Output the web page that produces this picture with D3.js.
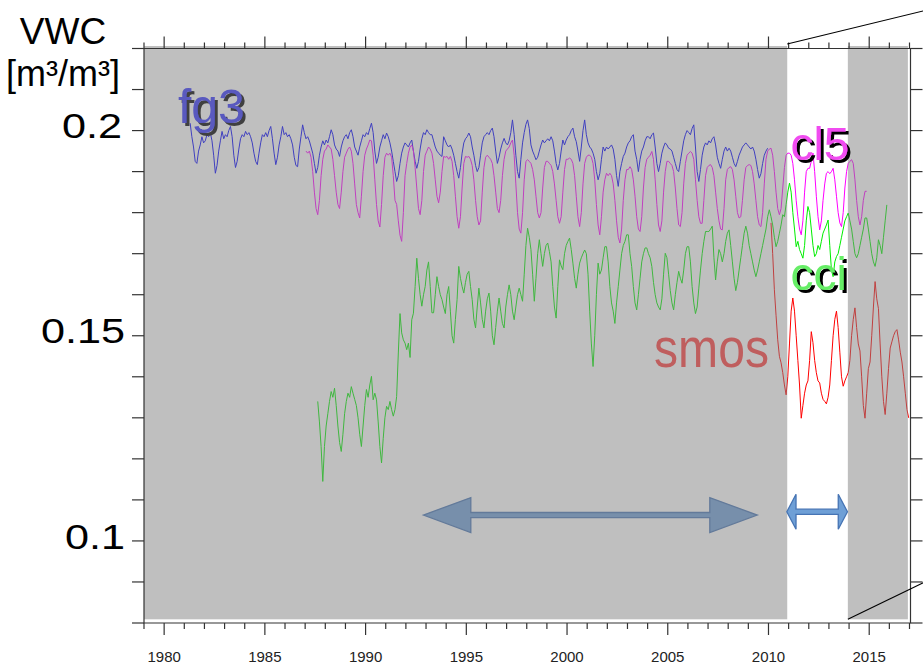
<!DOCTYPE html>
<html>
<head>
<meta charset="utf-8">
<script src="https://cdn.jsdelivr.net/npm/d3@7"></script>
<style>
  html, body { margin: 0; padding: 0; background: #fff; }
  svg { display: block; font-family: "Liberation Sans", Arial, sans-serif; }
</style>
</head>
<body>
<svg id="chart" width="923" height="668"></svg>
<script>
// Monthly volumetric water content series [m3/m3]; each series starts at the given month.
const fg3Start = [1981, 3];   // April 1981
const fg3 = [
  .2018,.1985,.1960,.1925,.1920,.1950,.1965,.1985,.1970,
  .1975,.1990,.1985,.1995,.1975,.1940,.1896,.1915,.1950,.1975,.1998,.1980,
  .1990,.1985,.2000,.2010,.1985,.1940,.1910,.1925,.1955,.1980,.1990,.1985,
  .1998,.1990,.1995,.1985,.1970,.1945,.1925,.1917,.1945,.1970,.1990,.1985,
  .1995,.1985,.2000,.2010,.1980,.1945,.1917,.1935,.1965,.1985,.2010,.1990,
  .1995,.1985,.1990,.1980,.1965,.1935,.1915,.1912,.1955,.1985,.2014,.1995,
  .1980,.1985,.1975,.1960,.1945,.1920,.1896,.1910,.1940,.1960,.1975,.1965,
  .1977,.1970,.1985,.2002,.1990,.1965,.1955,.1950,.1937,.1960,.1975,.1985,
  .1990,.1980,.1995,.2002,.1985,.1960,.1950,.1940,.1960,.1975,.1990,.1985,
  .1995,.1990,.2005,.2018,.1995,.1950,.1920,.1935,.1960,.1975,.1990,.1980,
  .1994,.1985,.1970,.1950,.1925,.1900,.1876,.1890,.1920,.1945,.1960,.1970,
  .1965,.1960,.1970,.1977,.1950,.1925,.1908,.1925,.1955,.1980,.1995,.1990,
  .2002,.1995,.1990,.1990,.1975,.1960,.1950,.1945,.1940,.1937,.1985,.1975,
  .1965,.1960,.1965,.1955,.1940,.1920,.1900,.1884,.1910,.1945,.1970,.1980,
  .1985,.1994,.1985,.1960,.1940,.1915,.1900,.1910,.1940,.1970,.1985,.1990,
  .1995,.1990,.2000,.2006,.1985,.1950,.1920,.1935,.1955,.1970,.1981,.1970,
  .1965,.1975,.1995,.2026,.1990,.1940,.1900,.1884,.1930,.1970,.1995,.2015,
  .2026,.2005,.1965,.1950,.1940,.1929,.1935,.1950,.1965,.1977,.1970,.1975,
  .1980,.1975,.1985,.1975,.1950,.1920,.1904,.1920,.1950,.1977,.1965,.1977,
  .1985,.1990,.2000,.2006,.1985,.1973,.1950,.1925,.1960,.2000,.2026,.1990,
  .1970,.1960,.1955,.1945,.1930,.1900,.1880,.1895,.1930,.1960,.1950,.1960,
  .1955,.1960,.1965,.1955,.1930,.1890,.1864,.1900,.1920,.1937,.1945,.1960,
  .1970,.1975,.1985,.1990,.1950,.1930,.1900,.1930,.1950,.1960,.1975,.1985,
  .1985,.1980,.1990,.1994,.1960,.1920,.1900,.1920,.1945,.1960,.1970,.1965,
  .1957,.1955,.1950,.1935,.1920,.1905,.1900,.1925,.1950,.1975,.1990,.2000,
  .1995,.1990,.2005,.2014,.1960,.1900,.1876,.1905,.1940,.1960,.1970,.1965,
  .1975,.1970,.1980,.1985,.1965,.1935,.1920,.1908,.1930,.1950,.1960,.1950,
  .1957,.1950,.1935,.1920,.1912,.1925,.1940,.1950,.1960,.1965,.1970,.1965,
  .1960,.1955,.1960,.1950,.1930,.1905,.1884,.1895,.1920,.1940,.1950,.1957
];

const cl5Start = [1987, 0];   // January 1987
const cl5 = [
  .1950,.1945,.1950,.1935,.1900,.1850,.1810,.1795,.1830,.1890,.1930,.1950,
  .1955,.1965,.1960,.1955,.1930,.1890,.1850,.1820,.1810,.1850,.1900,.1935,
  .1945,.1955,.1960,.1950,.1920,.1870,.1820,.1800,.1787,.1840,.1900,.1940,
  .1955,.1965,.1977,.1975,.1940,.1880,.1820,.1780,.1765,.1820,.1890,.1935,
  .1945,.1940,.1945,.1935,.1890,.1830,.1820,.1780,.1745,.1730,.1800,.1890,
  .1920,.1945,.1960,.1965,.1950,.1910,.1860,.1810,.1795,.1830,.1900,.1940,
  .1950,.1960,.1955,.1945,.1920,.1880,.1840,.1824,.1850,.1900,.1937,.1935,
  .1937,.1930,.1937,.1925,.1890,.1840,.1790,.1762,.1790,.1860,.1920,.1937,
  .1935,.1937,.1930,.1915,.1880,.1830,.1790,.1770,.1780,.1850,.1910,.1935,
  .1940,.1935,.1930,.1920,.1890,.1850,.1810,.1800,.1830,.1890,.1930,.1950,
  .1955,.1960,.1970,.1977,.1940,.1870,.1800,.1760,.1750,.1800,.1880,.1925,
  .1929,.1925,.1920,.1905,.1880,.1840,.1800,.1787,.1800,.1860,.1910,.1925,
  .1925,.1920,.1915,.1900,.1870,.1830,.1790,.1774,.1790,.1850,.1905,.1930,
  .1930,.1933,.1930,.1920,.1890,.1840,.1790,.1766,.1800,.1870,.1920,.1935,
  .1940,.1940,.1935,.1920,.1880,.1820,.1770,.1746,.1790,.1850,.1880,.1896,
  .1890,.1896,.1890,.1870,.1830,.1780,.1740,.1726,.1760,.1830,.1880,.1905,
  .1905,.1912,.1905,.1880,.1840,.1790,.1760,.1754,.1790,.1860,.1910,.1930,
  .1935,.1940,.1949,.1930,.1880,.1820,.1770,.1754,.1780,.1850,.1900,.1925,
  .1925,.1920,.1915,.1900,.1860,.1810,.1770,.1766,.1800,.1870,.1920,.1940,
  .1945,.1949,.1945,.1930,.1880,.1830,.1790,.1774,.1774,.1830,.1890,.1910,
  .1915,.1917,.1910,.1890,.1850,.1810,.1780,.1760,.1758,.1810,.1880,.1905,
  .1910,.1912,.1905,.1880,.1840,.1800,.1787,.1790,.1830,.1880,.1910,.1915,
  .1917,.1915,.1900,.1870,.1830,.1790,.1770,.1766,.1800,.1870,.1930,.1950,
  .1955,.1957,.1940,.1900,.1850,.1810,.1795,.1810,.1860,.1910,.1940,.1945,
  .1945,.1940,.1920,.1880,.1830,.1790,.1760,.1746,.1780,.1850,.1900,.1908,
  .1908,.1925,.1945,.1900,.1840,.1790,.1758,.1780,.1830,.1870,.1896,.1900,
  .1895,.1900,.1908,.1880,.1840,.1800,.1775,.1766,.1800,.1860,.1900,.1920,
  .1925,.1929,.1920,.1880,.1830,.1790,.1770,.1790,.1830,.1852,.1852
];

const cciStart = [1987, 7];   // August 1987
const cci = [
  .1340,.1290,.1230,.1145,.1230,
  .1280,.1310,.1340,.1364,.1350,.1372,.1330,.1280,.1240,.1218,.1260,.1310,
  .1340,.1360,.1350,.1376,.1360,.1345,.1330,.1300,.1260,.1230,.1280,.1330,
  .1369,.1350,.1380,.1401,.1344,.1360,.1344,.1290,.1230,.1190,.1250,.1300,
  .1328,.1320,.1340,.1320,.1304,.1320,.1352,.1458,.1554,.1507,.1490,.1482,
  .1466,.1482,.1447,.1539,.1555,.1620,.1689,.1640,.1600,.1572,.1600,.1620,
  .1660,.1680,.1620,.1556,.1556,.1600,.1644,.1620,.1600,.1588,.1570,.1554,
  .1600,.1620,.1560,.1500,.1482,.1540,.1588,.1669,.1640,.1620,.1604,.1630,
  .1650,.1657,.1620,.1588,.1540,.1519,.1570,.1616,.1580,.1540,.1519,.1560,
  .1590,.1604,.1560,.1500,.1478,.1520,.1560,.1592,.1560,.1530,.1519,.1570,
  .1600,.1624,.1600,.1560,.1539,.1570,.1600,.1616,.1600,.1584,.1650,.1720,
  .1762,.1740,.1710,.1650,.1584,.1640,.1700,.1734,.1700,.1669,.1700,.1720,
  .1726,.1705,.1680,.1620,.1570,.1543,.1620,.1685,.1670,.1661,.1700,.1720,
  .1730,.1738,.1710,.1677,.1640,.1616,.1650,.1677,.1690,.1700,.1709,.1700,
  .1650,.1560,.1480,.1425,.1500,.1600,.1677,.1650,.1660,.1690,.1717,.1717,
  .1680,.1620,.1580,.1560,.1530,.1580,.1620,.1660,.1700,.1720,.1730,.1746,
  .1746,.1700,.1669,.1620,.1580,.1563,.1600,.1640,.1680,.1700,.1714,.1714,
  .1700,.1690,.1669,.1630,.1600,.1580,.1570,.1563,.1590,.1650,.1701,.1690,
  .1650,.1610,.1580,.1563,.1600,.1630,.1657,.1640,.1628,.1660,.1700,.1717,
  .1717,.1680,.1620,.1580,.1554,.1570,.1616,.1660,.1700,.1730,.1754,.1754,
  .1754,.1760,.1767,.1690,.1636,.1680,.1710,.1700,.1680,.1700,.1730,.1750,
  .1758,.1720,.1680,.1640,.1610,.1630,.1660,.1690,.1720,.1750,.1767,.1750,
  .1720,.1700,.1680,.1660,.1644,.1660,.1680,.1700,.1720,.1740,.1760,.1790,
  .1807,.1790,.1770,.1740,.1717,.1730,.1750,.1770,.1795,.1790,.1820,.1850,
  .1872,.1850,.1800,.1760,.1717,.1730,.1710,.1700,.1689,.1720,.1780,.1815,
  .1800,.1760,.1720,.1693,.1700,.1720,.1710,.1730,.1750,.1760,.1770,.1782,
  .1720,.1660,.1644,.1680,.1693,.1700,.1720,.1740,.1760,.1780,.1790,.1799,
  .1780,.1760,.1730,.1700,.1690,.1700,.1720,.1740,.1760,.1787,.1787,.1760,
  .1730,.1700,.1680,.1669,.1690,.1734,.1720,.1700,.1740,.1780,.1819
];

const smosStart = [2010, 1];  // February 2010
const smos = [
  .1775,.1700,.1612,.1550,.1490,.1450,.1434,.1410,.1380,.1356,.1400,
  .1480,.1560,.1592,.1560,.1500,.1440,.1380,.1299,.1330,.1360,.1380,.1390,
  .1440,.1510,.1483,.1440,.1410,.1390,.1385,.1360,.1345,.1340,.1334,.1350,
  .1380,.1440,.1500,.1540,.1560,.1520,.1460,.1400,.1377,.1390,.1400,.1410,
  .1440,.1500,.1540,.1568,.1520,.1480,.1463,.1400,.1330,.1299,.1360,.1420,
  .1436,.1500,.1570,.1632,.1590,.1566,.1480,.1400,.1340,.1308,.1360,.1420,
  .1470,.1485,.1500,.1510,.1515,.1490,.1460,.1436,.1400,.1360,.1320,.1300
];

const seriesNames  = ["fg3", "cl5", "cci", "smos"];
const seriesColors = ["#0000ff", "#ff00ff", "#00ee00", "#ff0000"];

// Axis ticks and labels
const yearTicks  = d3.range(1979, 2018);
const yearLabels = [1980, 1985, 1990, 1995, 2000, 2005, 2010, 2015];
const vwcTicks   = d3.range(8, 23).map(d => d / 100);
const vwcLabels  = [0.1, 0.15, 0.2];

// Greyed-out periods, the zoomed window and the two comparison periods
const greyPeriods  = [[1979, 2010.93], [2013.94, 2016.92]];
const zoomWindow   = [2010.93, 2013.94];
const longPeriod   = [1992.87, 2009.44];
const shortPeriod  = [2010.91, 2013.92];

const svg = d3.select("#chart");
const W = 923, H = 668;

const x = d3.scaleLinear().domain([1979, 2017]).range([144, 909.5]);
const y = d3.scaleLinear().domain([0.08, 0.22]).range([623, 48.5]);

// Hard offset shadow used behind the series labels
const defs = svg.append("defs");
const shadow = defs.append("filter").attr("id", "hardShadow")
  .attr("x", "-10%").attr("y", "-10%").attr("width", "130%").attr("height", "130%");
shadow.append("feOffset").attr("in", "SourceAlpha").attr("dx", 3).attr("dy", 3).attr("result", "off");
shadow.append("feFlood").attr("flood-color", "#000").attr("result", "col");
shadow.append("feComposite").attr("in", "col").attr("in2", "off").attr("operator", "in").attr("result", "sh");
const merge = shadow.append("feMerge");
merge.append("feMergeNode").attr("in", "sh");
merge.append("feMergeNode").attr("in", "SourceGraphic");

function toPoints(start, values) {
  return values.map((v, i) => ({ t: start[0] + (start[1] + i + 0.5) / 12, v }));
}
const allSeries = [
  toPoints(fg3Start, fg3),
  toPoints(cl5Start, cl5),
  toPoints(cciStart, cci),
  toPoints(smosStart, smos)
];

svg.append("rect").attr("width", W).attr("height", H).attr("fill", "#fff");

// Data lines
const line = d3.line().x(d => x(d.t)).y(d => y(d.v));
svg.append("g").selectAll("path").data(allSeries).join("path")
  .attr("d", line)
  .attr("fill", "none")
  .attr("stroke", (d, i) => seriesColors[i])
  .attr("stroke-width", 1)
  .attr("stroke-linejoin", "round");

function shadowLabel(g, text, px, py, size, fill) {
  g.append("text").attr("x", px).attr("y", py).attr("font-size", size)
    .attr("fill", fill).attr("filter", "url(#hardShadow)").text(text);
}

// Double-headed arrow spanning a period
function periodArrow(g, span, level, headLen) {
  const x0 = x(span[0]), x1 = x(span[1]), yc = y(level);
  const hh = 17.5, sh = 2.6;
  const pts = [
    [x0, yc], [x0 + headLen, yc - hh], [x0 + headLen, yc - sh],
    [x1 - headLen, yc - sh], [x1 - headLen, yc - hh], [x1, yc],
    [x1 - headLen, yc + hh], [x1 - headLen, yc + sh], [x0 + headLen, yc + sh],
    [x0 + headLen, yc + hh]
  ];
  g.append("path").attr("d", "M" + pts.map(p => p.join(",")).join("L") + "Z")
    .attr("fill", "#6e9fd6").attr("stroke", "#4674b4").attr("stroke-width", 1.3)
    .attr("stroke-linejoin", "miter");
}

const under = svg.append("g");
shadowLabel(under, "fg3", 178, 123, 48, "#3030ff");
under.append("text").attr("transform", "translate(654,366.5) scale(0.875,1)")
  .attr("font-size", 55).attr("fill", "#ff3c3c").text("smos");
periodArrow(under, longPeriod, 0.1063, 47.4);

// Semi-transparent grey veil outside the zoom window
svg.append("g").selectAll("rect").data(greyPeriods).join("rect")
  .attr("x", d => x(d[0]))
  .attr("width", d => x(d[1]) - x(d[0]))
  .attr("y", 46)
  .attr("height", 619.3 - 46)
  .attr("fill", "rgba(128,128,128,0.5)");

const over = svg.append("g");
shadowLabel(over, "cl5", 790.5, 160, 46, "#f04cf0");
shadowLabel(over, "cci", 790.5, 290, 46, "#66ee66");
periodArrow(over, shortPeriod, 0.1071, 9.2);

// Axes frame and ticks
const axisCol = "#333";
const ax = svg.append("g").attr("stroke", axisCol).attr("stroke-width", 1.2).attr("fill", "none");
const xL = x(1979), xR = x(2017) + 1, yT = y(0.22), yB = y(0.08);
ax.append("path").attr("d", `M${xL},${yT}H${xR}V${yB}H${xL}Z`);

ax.selectAll(".tb").data(yearTicks).join("line")
  .attr("x1", d => x(d)).attr("x2", d => x(d))
  .attr("y1", yB).attr("y2", d => yB + (d % 5 === 0 ? 12 : 6));
ax.selectAll(".tt").data(yearTicks).join("line")
  .attr("x1", d => x(d)).attr("x2", d => x(d))
  .attr("y1", yT).attr("y2", d => yT - (d % 5 === 0 ? 12 : 6));
ax.selectAll(".yl").data(vwcTicks).join("line")
  .attr("x1", xL - 12).attr("x2", xL)
  .attr("y1", d => y(d)).attr("y2", d => y(d));
ax.selectAll(".yr").data(vwcTicks).join("line")
  .attr("x1", xR).attr("x2", xR + 12)
  .attr("y1", d => y(d)).attr("y2", d => y(d));

svg.append("g").selectAll("text").data(yearLabels).join("text")
  .attr("x", d => x(d)).attr("y", 662)
  .attr("text-anchor", "middle").attr("font-size", 15).attr("fill", "#222")
  .text(d => d);

svg.append("g").selectAll("text").data(vwcLabels).join("text")
  .attr("transform", d => `translate(${d === 0.2 ? 122 : 125},${y(d) + 7.6}) scale(1.2,1)`)
  .attr("text-anchor", "end").attr("font-size", 36).attr("fill", "#000")
  .text(d => d3.format("")(d));

svg.append("text").attr("x", 63).attr("y", 44).attr("text-anchor", "middle")
  .attr("font-size", 37).attr("fill", "#000").text("VWC");
svg.append("text").attr("x", 63).attr("y", 85.5).attr("text-anchor", "middle")
  .attr("font-size", 36).attr("fill", "#000").text("[m³/m³]");

// Guide lines from the zoom window towards the inset
const guides = svg.append("g").attr("stroke", "#000").attr("stroke-width", 1.1);
guides.append("line")
  .attr("x1", x(zoomWindow[0])).attr("y1", 44)
  .attr("x2", W + 10).attr("y2", 44 - (W + 10 - x(zoomWindow[0])) * 0.243);
guides.append("line")
  .attr("x1", x(zoomWindow[1])).attr("y1", 619.3)
  .attr("x2", W + 10).attr("y2", 619.3 - (W + 10 - x(zoomWindow[1])) * 0.486);
</script>
</body>
</html>
